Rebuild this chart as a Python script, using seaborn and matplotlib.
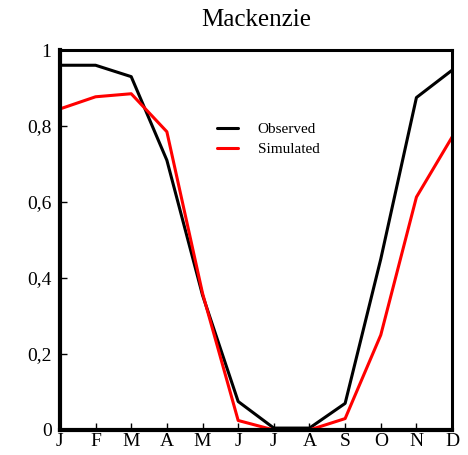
import matplotlib
matplotlib.use("Agg")
import matplotlib.pyplot as plt
import seaborn as sns
import pandas as pd

months = ["J", "F", "M", "A", "M", "J", "J", "A", "S", "O", "N", "D"]
observed = [0.96, 0.96, 0.93, 0.71, 0.355, 0.075, 0.005, 0.005, 0.07, 0.45, 0.875, 0.947]
simulated = [0.845, 0.877, 0.885, 0.785, 0.36, 0.025, 0.0, 0.0, 0.03, 0.25, 0.613, 0.771]
yticks = [0, 0.2, 0.4, 0.6, 0.8, 1]
ytick_labels = ["0", "0,2", "0,4", "0,6", "0,8", "1"]

sns.set_style("ticks")
plt.rcParams["font.family"] = ["Liberation Serif", "DejaVu Serif"]

n = len(months)
df = pd.DataFrame({
    "x": list(range(n)) * 2,
    "y": observed + simulated,
    "series": ["Observed"] * n + ["Simulated"] * n,
})

fig = plt.figure(figsize=(4.68, 4.55), dpi=100)
ax = fig.add_axes([0.128, 0.055, 0.838, 0.835])
sns.lineplot(data=df, x="x", y="y", hue="series",
             palette={"Observed": "black", "Simulated": "#ff0000"},
             linewidth=2.2, ax=ax, legend=True)

ax.set_xlim(0, n - 1)
ax.set_ylim(0, 1)
ax.set_xticks(range(n))
ax.set_xticklabels(months, fontsize=14)
ax.set_yticks(yticks)
ax.set_yticklabels(ytick_labels, fontsize=14)
ax.tick_params(direction="in", length=5, width=1, pad=2, colors="black")
ax.tick_params(axis="y", pad=6)
ax.set_xlabel("")
ax.set_ylabel("")
for side in ["left", "bottom"]:
    ax.spines[side].set_linewidth(3)
    ax.spines[side].set_color("black")
for side in ["top", "right"]:
    ax.spines[side].set_linewidth(2.2)
    ax.spines[side].set_visible(True)
    ax.spines[side].set_color("black")
ax.set_title("Mackenzie", fontsize=18, pad=17, color="black")

leg = ax.legend(title=None, loc="upper left", bbox_to_anchor=(0.365, 0.846),
                frameon=False, fontsize=11, handlelength=1.37, handletextpad=1.3,
                labelspacing=0.44)
for t in leg.get_texts():
    t.set_color("black")

fig.savefig("out.png", dpi=100)
